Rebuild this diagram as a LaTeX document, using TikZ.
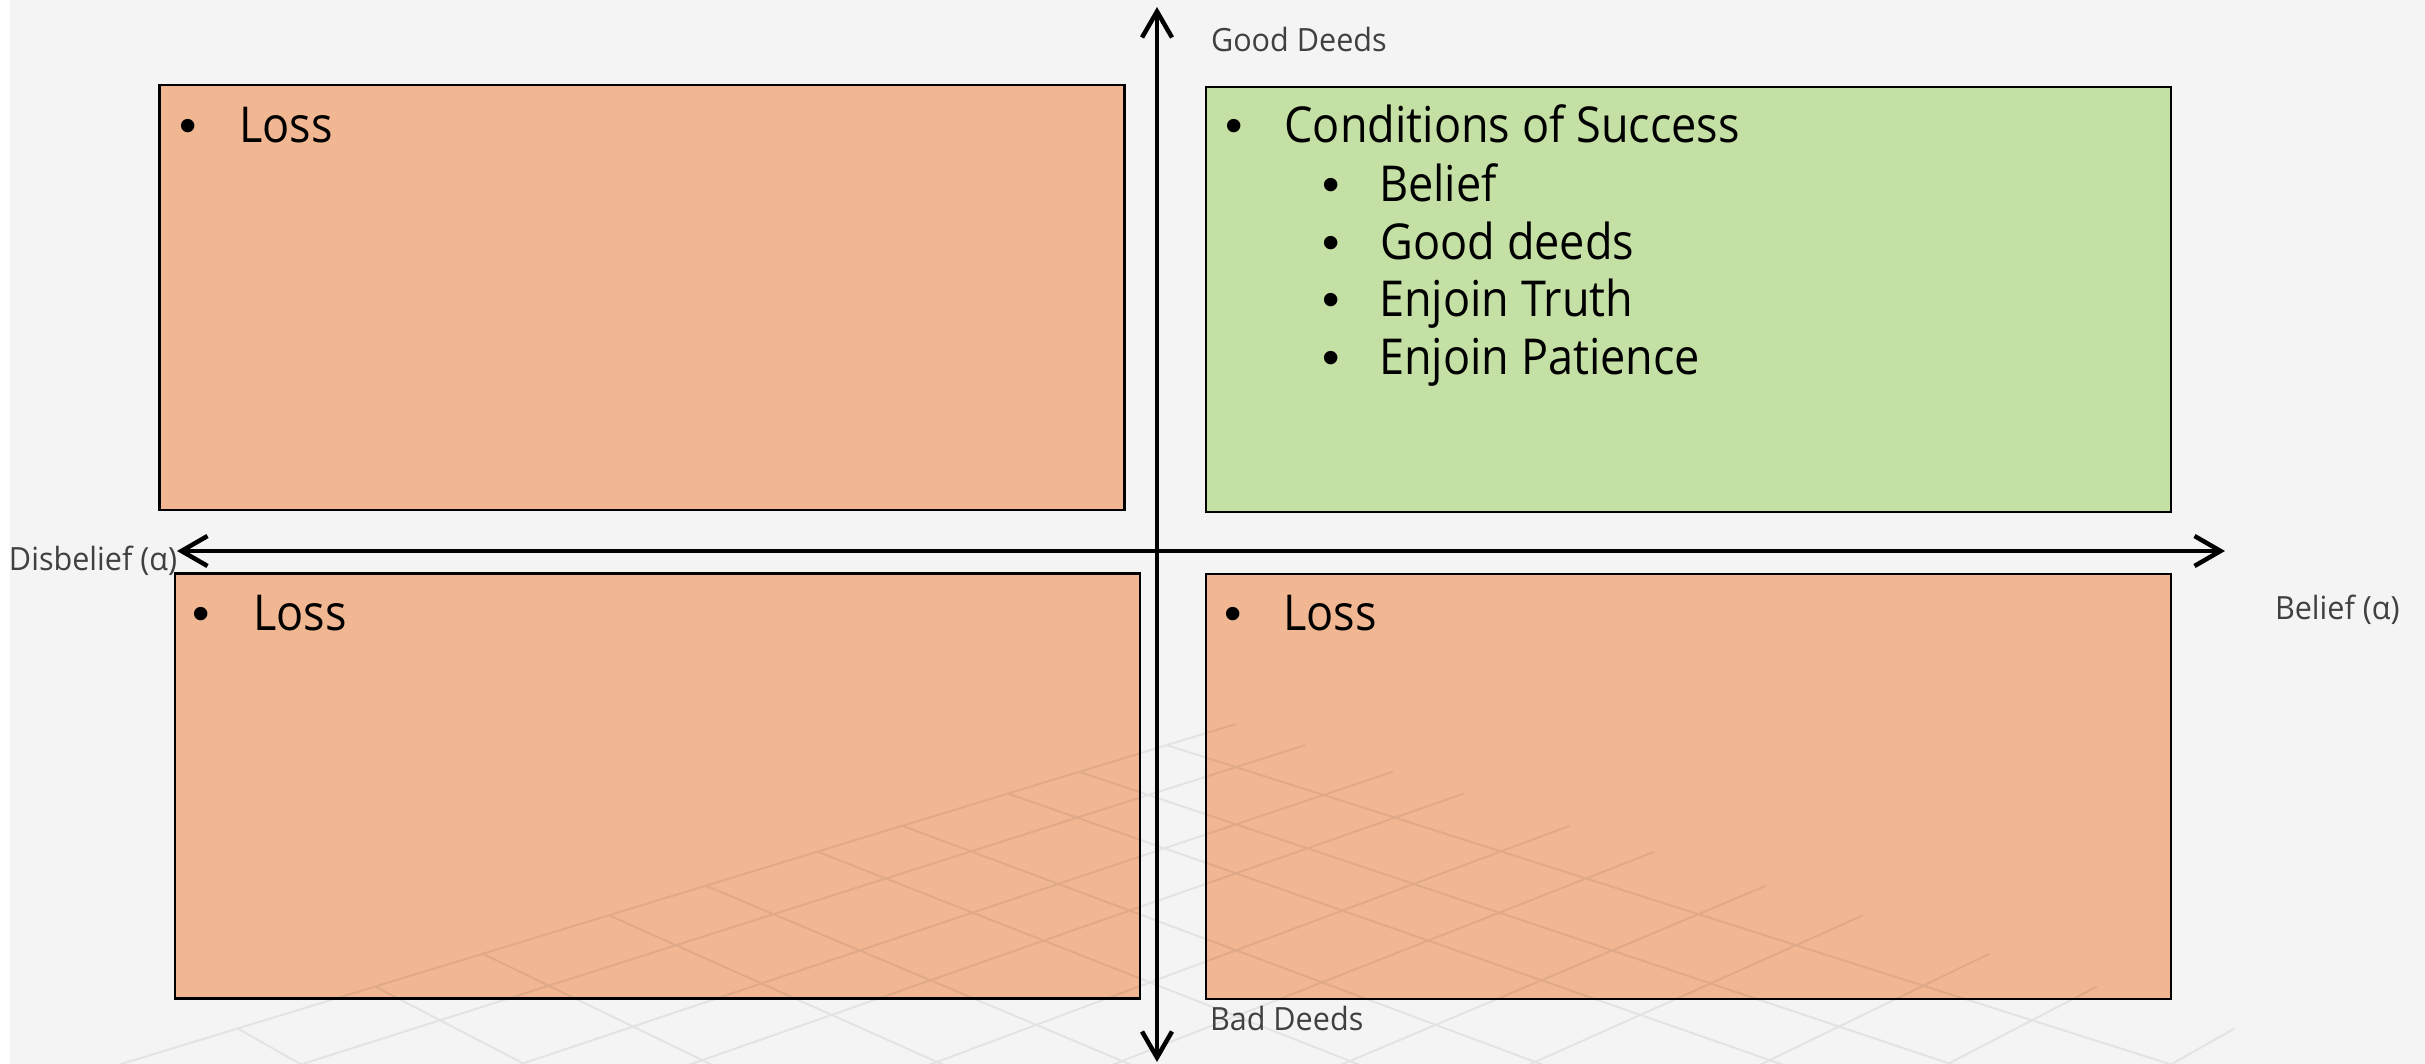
\documentclass[tikz,border=0pt]{standalone}
\usepackage{fontspec}
\setmainfont{Open Sans}
\newfontfamily\bodyfont[FakeStretch=0.91]{Open Sans}
\newfontfamily\labelfont[FakeStretch=0.955]{Open Sans}
\newfontfamily\bulletfont{Liberation Sans}
\usetikzlibrary{arrows.meta}
\definecolor{bgc}{HTML}{F4F4F4}
\definecolor{boxorange}{HTML}{F1B792}
\definecolor{boxgreen}{HTML}{C5E0A5}
\definecolor{labelgray}{HTML}{404040}
\begin{document}
\begin{tikzpicture}[x=1pt,y=-1pt,
  quad/.style={draw=black, line width=2.5pt, minimum width=965pt, minimum height=425pt, anchor=north west, inner sep=0pt, outer sep=0pt},
  maintext/.style={anchor=base west, inner sep=0pt, outer sep=0pt, font=\bodyfont\fontsize{49.5}{57}\selectfont},
  bul/.style={anchor=base, inner sep=0pt, outer sep=0pt, font=\bulletfont\fontsize{49.5}{57}\selectfont},
  axlabel/.style={anchor=base west, inner sep=0pt, outer sep=0pt, text=labelgray, font=\labelfont\fontsize{32}{38}\selectfont},
  axisline/.style={line width=4.5pt, {Straight Barb[length=26pt,width=30pt]}-{Straight Barb[length=26pt,width=30pt]}},
  gridline/.style={line width=2pt, draw=black, draw opacity=0.065},
  declare function={gx(\s,\t)=(1236+2076*\s-4548*\t)/(1-\s-\t); gy(\s,\t)=(724+286*\s+286*\t)/(1-\s-\t);}
]
\useasboundingbox (0,0) rectangle (2425,1064);
\fill[white] (0,0) rectangle (10,1064);
\fill[bgc] (10,0) rectangle (2425,1064);

% quadrant boxes
\node[quad, fill=boxorange] (tl) at (159.5,85) {};
\node[quad, fill=boxgreen]  (tr) at (1206,87) {};
\node[quad, fill=boxorange] (bl) at (175,573.5) {};
\node[quad, fill=boxorange] (br) at (1206,574) {};

% perspective floor grid
\begin{scope}
\clip (10,0) rectangle (2425,1064);
\draw[gridline]
  \foreach \s in {0,0.0205,0.0452,0.0644,0.0915,0.1122,0.1380,0.1592,0.1853,0.2063,0.2316}{
    ({gx(\s,0)},{gy(\s,0)}) -- ({gx(\s,0.34)},{gy(\s,0.34)})
  }
  \foreach \t in {0.0205,0.0452,0.0644,0.0915,0.1122,0.1380,0.1592,0.1853,0.2063,0.2316}{
    ({gx(0,\t)},{gy(0,\t)}) -- ({gx(0.34,\t)},{gy(0.34,\t)})
  };
\end{scope}

% axes
\coordinate (ytop) at (1157,7);
\coordinate (ybot) at (1157,1062);
\coordinate (xleft) at (177,551);
\coordinate (xright) at (2225,551);
\draw[axisline] (xleft) -- (xright);
\draw[axisline] (ybot) -- (ytop);

% axis labels
\node[axlabel] (good) at (1211,52) {Good Deeds};
\node[axlabel] (bad) at (1210,1030) {Bad Deeds};
\node[axlabel] (disb) at (9,570) {Disbelief (α)};
\node[axlabel] (bel) at (2275,619) {Belief (α)};

% top-left
\node[bul] (tlb) at (188,143) {•};
\node[maintext] (tlt) at (239,143) {Loss};
% top-right
\node[bul] (trb) at (1234,143) {•};
\node[maintext] (trt) at (1284.5,143) {Conditions of Success};
\node[bul] (trb1) at (1331,202) {•};
\node[maintext] (trt1) at (1379,202) {Belief};
\node[bul] (trb2) at (1331,259.5) {•};
\node[maintext] (trt2) at (1380.5,259.5) {Good deeds};
\node[bul] (trb3) at (1331,317) {•};
\node[maintext] (trt3) at (1379,317) {Enjoin Truth};
\node[bul] (trb4) at (1331,374.5) {•};
\node[maintext] (trt4) at (1379,374.5) {Enjoin Patience};
% bottom-left
\node[bul] (blb) at (201,630) {•};
\node[maintext] (blt) at (253,630) {Loss};
% bottom-right
\node[bul] (brb) at (1233,630) {•};
\node[maintext] (brt) at (1283,630) {Loss};
\end{tikzpicture}
\end{document}
